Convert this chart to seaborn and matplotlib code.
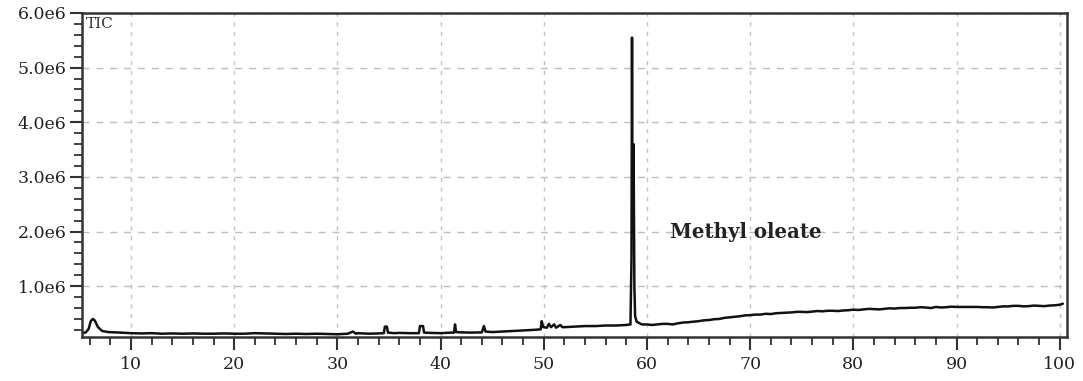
import matplotlib
matplotlib.use("Agg")
import matplotlib.pyplot as plt
from matplotlib.ticker import FixedLocator, MultipleLocator
import seaborn as sns
import pandas as pd

# Total ion chromatogram: retention time (min) and abundance (counts)
retention_time = [
    5.3, 5.6, 5.9, 6.1, 6.3, 6.5, 6.8, 7.2, 7.8, 8.5, 9.0,
    10, 11, 12, 13, 14, 15, 16, 17, 18, 19, 20, 21, 22, 23, 24, 25,
    26, 27, 28, 29, 30, 31, 31.5, 31.8, 32, 33, 34, 34.5, 34.6, 34.8, 34.9,
    35.5, 36, 37, 37.9, 38.0, 38.3, 38.4, 39, 40, 41, 41.3, 41.4, 41.5,
    42, 43, 44, 44.2, 44.35, 45, 46, 47, 48, 49, 49.7, 49.8, 49.95,
    50.3, 50.5, 50.7, 51.0, 51.2, 51.6, 51.8, 52, 53, 54, 55, 56, 57,
    58, 58.4, 58.5, 58.55, 58.6, 58.7, 58.78, 58.85, 59.0, 59.5,
    60, 60.5, 61, 61.5, 62, 62.5, 63, 63.5, 64, 64.5, 65, 65.5, 66, 66.5,
    67, 67.5, 68, 68.5, 69, 69.5, 70, 70.5, 71, 71.5, 72, 72.5, 73, 73.5,
    74, 74.5, 75, 75.5, 76, 76.5, 77, 77.5, 78, 78.5, 79, 79.5, 80, 80.5,
    81, 81.5, 82, 82.5, 83, 83.5, 84, 84.5, 85, 85.5, 86, 86.5, 87, 87.5,
    88, 88.5, 89, 89.5, 90, 90.5, 91, 91.5, 92, 92.5, 93, 93.5, 94, 94.5,
    95, 95.5, 96, 96.5, 97, 97.5, 98, 98.5, 99, 99.5, 100, 100.3,
]
abundance = [
    150000, 150000, 220000, 360000, 400000, 370000, 250000, 180000, 160000, 155000, 150000,
    140000, 135000, 140000, 130000, 135000, 130000, 135000, 130000, 130000, 135000, 130000,
    130000, 140000, 135000, 130000, 125000,
    130000, 125000, 130000, 125000, 120000, 130000, 170000, 130000, 140000, 130000, 135000,
    140000, 260000, 260000, 150000,
    140000, 145000, 140000, 140000, 270000, 270000, 150000, 145000, 140000, 150000, 150000,
    300000, 160000,
    155000, 150000, 155000, 270000, 170000, 160000, 170000, 180000, 190000, 200000, 210000,
    360000, 250000,
    240000, 310000, 250000, 300000, 240000, 290000, 250000, 250000, 260000, 270000, 270000,
    280000, 280000,
    290000, 300000, 1500000, 5550000, 2000000, 3600000, 1000000, 450000, 350000, 300000,
    300000, 290000, 300000, 310000, 310000, 300000, 320000, 335000, 340000, 350000,
    360000, 375000, 380000, 395000,
    400000, 420000, 430000, 440000, 450000, 465000, 470000, 480000, 480000, 495000,
    490000, 505000, 510000, 515000,
    520000, 530000, 530000, 525000, 535000, 545000, 540000, 550000, 550000, 545000,
    555000, 560000, 570000, 565000,
    575000, 585000, 580000, 575000, 585000, 595000, 590000, 600000, 600000, 605000,
    605000, 615000, 610000, 600000,
    620000, 610000, 615000, 625000, 620000, 620000, 620000, 620000, 620000, 615000,
    615000, 610000, 620000, 630000,
    630000, 640000, 640000, 630000, 635000, 645000, 640000, 635000, 645000, 650000,
    660000, 680000,
]

y_ticks = [1.0e6, 2.0e6, 3.0e6, 4.0e6, 5.0e6, 6.0e6]
y_tick_labels = ["1.0e6", "2.0e6", "3.0e6", "4.0e6", "5.0e6", "6.0e6"]
x_ticks = [10, 20, 30, 40, 50, 60, 70, 80, 90, 100]
x_tick_labels = ["10", "20", "30", "40", "50", "60", "70", "80", "90", "100"]

peak_label = "Methyl oleate"
trace_label = "TIC"

sns.set_style("white")
plt.rcParams["font.family"] = ["DejaVu Serif"]

fig = plt.figure(figsize=(10.83, 3.81), dpi=100)
ax = fig.add_axes([0.0757, 0.1155, 0.9095, 0.8504])

df = pd.DataFrame({"time": retention_time, "tic": abundance})
sns.lineplot(data=df, x="time", y="tic", ax=ax, color="#111111",
             linewidth=1.8, estimator=None, sort=False)

ax.set_xlim(5.25, 100.7)
ax.set_ylim(0.07e6, 6.0e6)

ax.xaxis.set_major_locator(FixedLocator(x_ticks))
ax.set_xticklabels(x_tick_labels)
ax.xaxis.set_minor_locator(MultipleLocator(2))
ax.yaxis.set_major_locator(FixedLocator(y_ticks))
ax.set_yticklabels(y_tick_labels)
ax.yaxis.set_minor_locator(MultipleLocator(0.2e6))

ax.tick_params(axis="x", which="both", bottom=True, top=False)
ax.tick_params(axis="y", which="both", left=True, right=False)
ax.tick_params(axis="both", which="major", direction="out", length=9,
               width=1.5, color="#333333", labelsize=12.5, labelcolor="#222222")
ax.tick_params(axis="both", which="minor", direction="out", length=6,
               width=1.3, color="#333333")
ax.tick_params(axis="x", which="major", pad=5)
ax.tick_params(axis="y", which="major", pad=2)

ax.grid(True, which="major", axis="y", color="#bdbdbd",
        linestyle=(0, (5, 5)), linewidth=1.0)
ax.grid(True, which="major", axis="x", color="#c4c4c4",
        linestyle=(0, (3, 4)), linewidth=1.0)

for side in ["left", "bottom", "top", "right"]:
    ax.spines[side].set_visible(True)
    ax.spines[side].set_color("#333333")
    ax.spines[side].set_linewidth(1.8)

ax.set_xlabel("")
ax.set_ylabel("")

ax.text(5.6, 5.8e6, trace_label, fontsize=11, color="#333333",
        ha="left", va="center")
ax.text(62.2, 1.99e6, peak_label, fontsize=14.2, color="#222222",
        fontweight="bold", ha="left", va="center")

fig.savefig("out.png", dpi=100)
